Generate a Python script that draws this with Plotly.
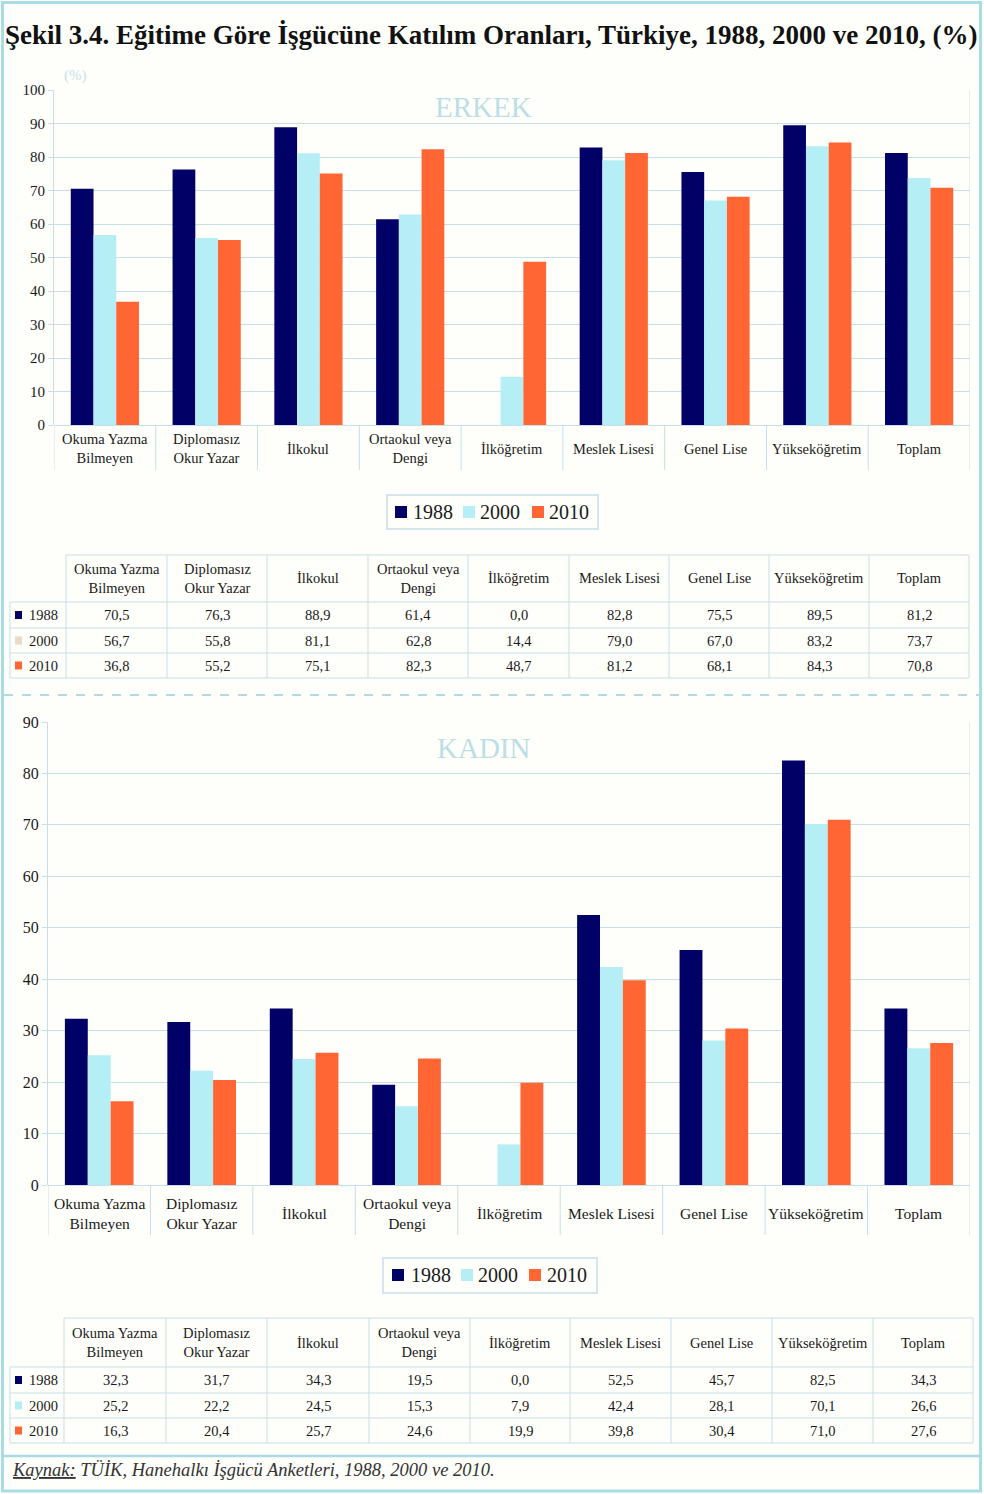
import plotly.graph_objects as go

W, H = 984, 1494

categories = ["Okuma Yazma Bilmeyen", "Diplomasız Okur Yazar", "İlkokul", "Ortaokul veya Dengi",
              "İlköğretim", "Meslek Lisesi", "Genel Lise", "Yükseköğretim", "Toplam"]
category_labels = ["Okuma Yazma<br>Bilmeyen", "Diplomasız<br>Okur Yazar", "İlkokul", "Ortaokul veya<br>Dengi",
                   "İlköğretim", "Meslek Lisesi", "Genel Lise", "Yükseköğretim", "Toplam"]
years = ["1988", "2000", "2010"]

erkek_1988 = [70.5, 76.3, 88.9, 61.4, 0.0, 82.8, 75.5, 89.5, 81.2]
erkek_2000 = [56.7, 55.8, 81.1, 62.8, 14.4, 79.0, 67.0, 83.2, 73.7]
erkek_2010 = [36.8, 55.2, 75.1, 82.3, 48.7, 81.2, 68.1, 84.3, 70.8]

kadin_1988 = [32.3, 31.7, 34.3, 19.5, 0.0, 52.5, 45.7, 82.5, 34.3]
kadin_2000 = [25.2, 22.2, 24.5, 15.3, 7.9, 42.4, 28.1, 70.1, 26.6]
kadin_2010 = [16.3, 20.4, 25.7, 24.6, 19.9, 39.8, 30.4, 71.0, 27.6]

series_colors = ["#000066", "#b5eef4", "#ff6633"]
table1_marker_colors = ["#000066", "#ead9c6", "#ff6633"]
table2_marker_colors = ["#000066", "#b5eef4", "#ff6633"]

BG = "#fefefa"
GRID = "#c9dfe6"
FRAME = "#a9dce4"
SERIF = "Liberation Serif"
TXT = "#1a1a1a"


def pxx(x):
    return x / W


def pyy(y):
    return 1 - y / H


fig = go.Figure()

erkek = [erkek_1988, erkek_2000, erkek_2010]
kadin = [kadin_1988, kadin_2000, kadin_2010]
for i, yr in enumerate(years):
    fig.add_trace(go.Bar(x=categories, y=erkek[i], name=yr, marker_color=series_colors[i],
                         marker_line_width=0, xaxis="x", yaxis="y", showlegend=False))
for i, yr in enumerate(years):
    fig.add_trace(go.Bar(x=categories, y=kadin[i], name=yr, marker_color=series_colors[i],
                         marker_line_width=0, xaxis="x2", yaxis="y2", showlegend=False))

shapes = []
annotations = []

top = dict(x0=54, x1=970, y0=425, y1=90, ymax=100, lab_y=449, div_y=470, tickfs=15, labfs=14.5)
bot = dict(x0=48, x1=970, y0=1185, y1=722, ymax=90, lab_y=1213, div_y=1235, tickfs=16, labfs=15.5)

axis_common = dict(showgrid=False, showticklabels=False, ticks="", type="category",
                   range=[-0.5, len(categories) - 0.5], showline=False, zeroline=False,
                   automargin=False)
yaxis_common = dict(showgrid=True, gridcolor=GRID, gridwidth=1, dtick=10, ticks="outside", ticklen=5,
                    tickcolor=GRID, showline=True, linecolor=GRID, linewidth=1, zeroline=True,
                    zerolinecolor=GRID, zerolinewidth=1, automargin=False)

fig.update_layout(
    xaxis=dict(domain=[pxx(top["x0"]), pxx(top["x1"])], anchor="y", **axis_common),
    yaxis=dict(domain=[pyy(top["y0"]), pyy(top["y1"])], anchor="x", range=[0, top["ymax"]],
               tickfont=dict(family=SERIF, size=top["tickfs"], color=TXT), **yaxis_common),
    xaxis2=dict(domain=[pxx(bot["x0"]), pxx(bot["x1"])], anchor="y2", **axis_common),
    yaxis2=dict(domain=[pyy(bot["y0"]), pyy(bot["y1"])], anchor="x2", range=[0, bot["ymax"]],
                tickfont=dict(family=SERIF, size=bot["tickfs"], color=TXT), **yaxis_common),
)

for ax, g in (("x", top), ("x2", bot)):
    for k in range(len(categories) + 1):
        shapes.append(dict(type="line", xref=ax, yref="paper", x0=k - 0.5, x1=k - 0.5,
                           y0=pyy(g["div_y"]), y1=pyy(g["y0"]), line=dict(color=GRID, width=1)))
    shapes.append(dict(type="line", xref=ax, yref="paper", x0=len(categories) - 0.5,
                       x1=len(categories) - 0.5, y0=pyy(g["y0"]), y1=pyy(g["y1"]),
                       line=dict(color=GRID, width=1)))
    for c, lab in zip(categories, category_labels):
        annotations.append(dict(x=c, xref=ax, y=pyy(g["lab_y"]), yref="paper", text=lab,
                                showarrow=False, xanchor="center", yanchor="middle",
                                font=dict(family=SERIF, size=g["labfs"], color=TXT)))


def fmt(v):
    return f"{v:.1f}".replace(".", ",")


def draw_table(col_edges, row_edges, data, marker_colors, fs):
    left = col_edges[0]
    right = col_edges[-1]
    shapes.append(dict(type="line", xref="paper", yref="paper", x0=pxx(col_edges[1]), x1=pxx(right),
                       y0=pyy(row_edges[0]), y1=pyy(row_edges[0]), line=dict(color=GRID, width=1)))
    for ry in row_edges[1:]:
        shapes.append(dict(type="line", xref="paper", yref="paper", x0=pxx(left), x1=pxx(right),
                           y0=pyy(ry), y1=pyy(ry), line=dict(color=GRID, width=1)))
    shapes.append(dict(type="line", xref="paper", yref="paper", x0=pxx(left), x1=pxx(left),
                       y0=pyy(row_edges[1]), y1=pyy(row_edges[-1]), line=dict(color=GRID, width=1)))
    for cx in col_edges[1:]:
        shapes.append(dict(type="line", xref="paper", yref="paper", x0=pxx(cx), x1=pxx(cx),
                           y0=pyy(row_edges[0]), y1=pyy(row_edges[-1]), line=dict(color=GRID, width=1)))
    hy = (row_edges[0] + row_edges[1]) / 2
    for j, lab in enumerate(category_labels):
        cx = (col_edges[j + 1] + col_edges[j + 2]) / 2
        annotations.append(dict(x=pxx(cx), y=pyy(hy), xref="paper", yref="paper", text=lab,
                                showarrow=False, xanchor="center", yanchor="middle",
                                font=dict(family=SERIF, size=fs, color=TXT)))
    for i, yr in enumerate(years):
        cy = (row_edges[i + 1] + row_edges[i + 2]) / 2
        shapes.append(dict(type="rect", xref="paper", yref="paper", x0=pxx(left + 5), x1=pxx(left + 12),
                           y0=pyy(cy + 4), y1=pyy(cy - 4), line=dict(width=0),
                           fillcolor=marker_colors[i]))
        annotations.append(dict(x=pxx(left + 17), y=pyy(cy), xref="paper", yref="paper", text=yr,
                                showarrow=False, xanchor="left", yanchor="middle",
                                font=dict(family=SERIF, size=fs, color=TXT)))
        for j, v in enumerate(data[i]):
            cx = (col_edges[j + 1] + col_edges[j + 2]) / 2
            annotations.append(dict(x=pxx(cx), y=pyy(cy), xref="paper", yref="paper", text=fmt(v),
                                    showarrow=False, xanchor="center", yanchor="middle",
                                    font=dict(family=SERIF, size=fs, color=TXT)))


draw_table([10, 66, 167, 267, 368, 468, 569, 669, 769, 869, 969], [555, 602, 628, 653, 678],
           erkek, table1_marker_colors, 14.5)
draw_table([10, 64, 166, 267, 369, 470, 570, 671, 772, 873, 973], [1318, 1367, 1393, 1418, 1443],
           kadin, table2_marker_colors, 14.5)


def draw_legend(box, y_mid, square_x, text_x):
    shapes.append(dict(type="rect", xref="paper", yref="paper", x0=pxx(box[0]), x1=pxx(box[1]),
                       y0=pyy(box[3]), y1=pyy(box[2]), line=dict(color=GRID, width=1.5), fillcolor=BG))
    for i, yr in enumerate(years):
        shapes.append(dict(type="rect", xref="paper", yref="paper", x0=pxx(square_x[i]),
                           x1=pxx(square_x[i] + 12), y0=pyy(y_mid + 6), y1=pyy(y_mid - 6),
                           line=dict(width=0), fillcolor=series_colors[i]))
        annotations.append(dict(x=pxx(text_x[i]), y=pyy(y_mid), xref="paper", yref="paper", text=yr,
                                showarrow=False, xanchor="left", yanchor="middle",
                                font=dict(family=SERIF, size=20, color=TXT)))


draw_legend((387, 598, 495, 529), 512, [395, 463, 532], [411, 478, 547])
draw_legend((383, 597, 1258, 1293), 1275, [392, 461, 529], [409, 476, 545])

shapes.append(dict(type="rect", xref="paper", yref="paper", x0=pxx(2.5), x1=pxx(980.5),
                   y0=pyy(1491), y1=pyy(2.5), line=dict(color=FRAME, width=3)))
shapes.append(dict(type="line", xref="paper", yref="paper", x0=pxx(3), x1=pxx(980),
                   y0=pyy(1456), y1=pyy(1456), line=dict(color=FRAME, width=2.5)))
shapes.append(dict(type="line", xref="paper", yref="paper", x0=pxx(4), x1=pxx(979),
                   y0=pyy(695), y1=pyy(695), line=dict(color="#b3d9e2", width=2, dash="dash")))

annotations.append(dict(x=pxx(491), y=pyy(35), xref="paper", yref="paper",
                        text="<b>Şekil 3.4. Eğitime Göre İşgücüne Katılım Oranları, Türkiye, 1988, 2000 ve 2010, (%)</b>",
                        showarrow=False, xanchor="center", yanchor="middle",
                        font=dict(family=SERIF, size=27, color="#111111")))
annotations.append(dict(x=pxx(62), y=pyy(76), xref="paper", yref="paper", text="(%)",
                        showarrow=False, xanchor="left", yanchor="middle",
                        font=dict(family=SERIF, size=15, color="#c3e3ea")))
annotations.append(dict(x=pxx(483), y=pyy(107), xref="paper", yref="paper", text="ERKEK",
                        showarrow=False, xanchor="center", yanchor="middle",
                        font=dict(family=SERIF, size=29, color="#bcdee7")))
annotations.append(dict(x=pxx(483), y=pyy(748), xref="paper", yref="paper", text="KADIN",
                        showarrow=False, xanchor="center", yanchor="middle",
                        font=dict(family=SERIF, size=29, color="#bcdee7")))
annotations.append(dict(x=pxx(10), y=pyy(1470), xref="paper", yref="paper",
                        text="<i><span style='text-decoration:underline'>Kaynak:</span> TÜİK, Hanehalkı İşgücü Anketleri, 1988, 2000 ve 2010.</i>",
                        showarrow=False, xanchor="left", yanchor="middle",
                        font=dict(family=SERIF, size=18.5, color="#333333")))

fig.update_layout(
    width=W, height=H, margin=dict(l=0, r=0, t=0, b=0, pad=0, autoexpand=False),
    paper_bgcolor=BG, plot_bgcolor=BG,
    barmode="group", bargap=0.33, bargroupgap=0,
    showlegend=False,
    shapes=shapes, annotations=annotations,
)

post = ("var gd=document.getElementById('{plot_id}');"
        "document.documentElement.style.margin='0';"
        "document.body.style.margin='0';document.body.style.padding='0';"
        "gd.style.position='absolute';gd.style.top='0px';gd.style.left='0px';")

fig.write_html("out.html", post_script=post, config={"displayModeBar": False})
